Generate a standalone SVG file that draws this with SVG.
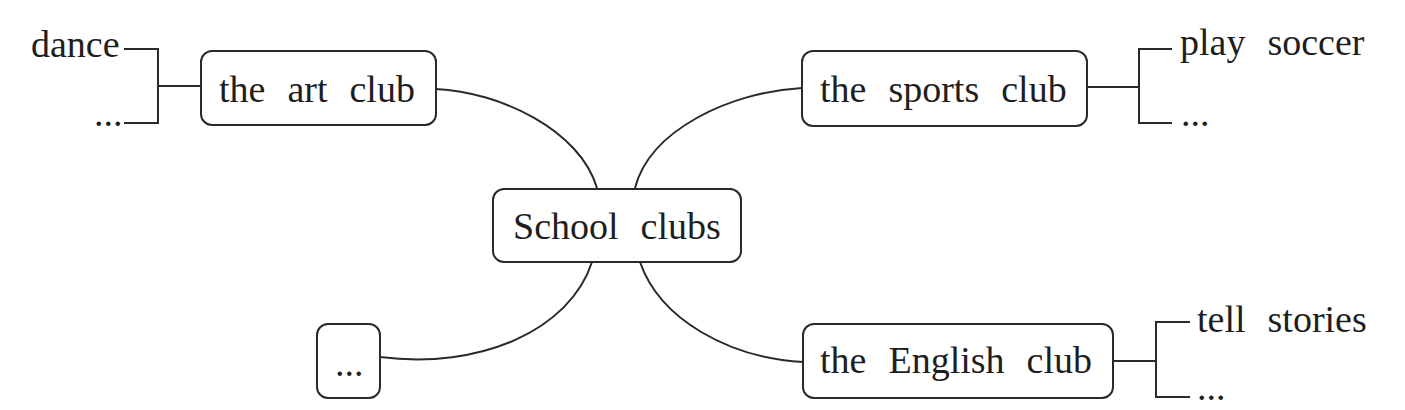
<svg xmlns="http://www.w3.org/2000/svg" width="1405" height="410" viewBox="0 0 1405 410">
<style>
.box{fill:#fff;stroke:#2a2a2a;stroke-width:2}
.ln{fill:none;stroke:#2a2a2a;stroke-width:2}
.t{font-family:'Liberation Serif','DejaVu Serif',serif;font-size:38px;fill:#1e1e1e;word-spacing:12.5px}
</style>
<rect width="1405" height="410" fill="#fff"/>
<g id="connectors">
<path class="ln" d="M436,89 C500,92 580,130 597,188"/>
<path class="ln" d="M635,188 C650,130 730,92 802,88"/>
<path class="ln" d="M592,262 C570,330 480,370 380,357"/>
<path class="ln" d="M640,262 C660,320 730,358 803,362"/>
<path class="ln" d="M124,49 H158 V123 H124 M158,86 H201"/>
<path class="ln" d="M1087,87 H1139 M1172,49 H1139 V123 H1172"/>
<path class="ln" d="M1113,361 H1156 M1190,322 H1156 V397 H1190"/>
</g>
<g id="school-clubs">
<rect class="box" x="493" y="189" width="248" height="73" rx="11"/>
<text class="t" x="513" y="239">School clubs</text>
</g>
<g id="art-club">
<rect class="box" x="201" y="51" width="235" height="74" rx="11"/>
<text class="t" x="219" y="102">the art club</text>
</g>
<g id="art-items">
<text class="t" x="31" y="57">dance</text>
<text class="t" x="94" y="126">...</text>
</g>
<g id="sports-club">
<rect class="box" x="802" y="51" width="285" height="75" rx="11"/>
<text class="t" x="820" y="102">the sports club</text>
</g>
<g id="sports-items">
<text class="t" x="1180" y="55">play soccer</text>
<text class="t" x="1181" y="126">...</text>
</g>
<g id="english-club">
<rect class="box" x="803" y="324" width="310" height="74" rx="11"/>
<text class="t" x="820" y="373">the English club</text>
</g>
<g id="english-items">
<text class="t" x="1197" y="332">tell stories</text>
<text class="t" x="1197" y="400">...</text>
</g>
<g id="other-club">
<rect class="box" x="317" y="324" width="63" height="74" rx="11"/>
<text class="t" x="335" y="376">...</text>
</g>
</svg>
